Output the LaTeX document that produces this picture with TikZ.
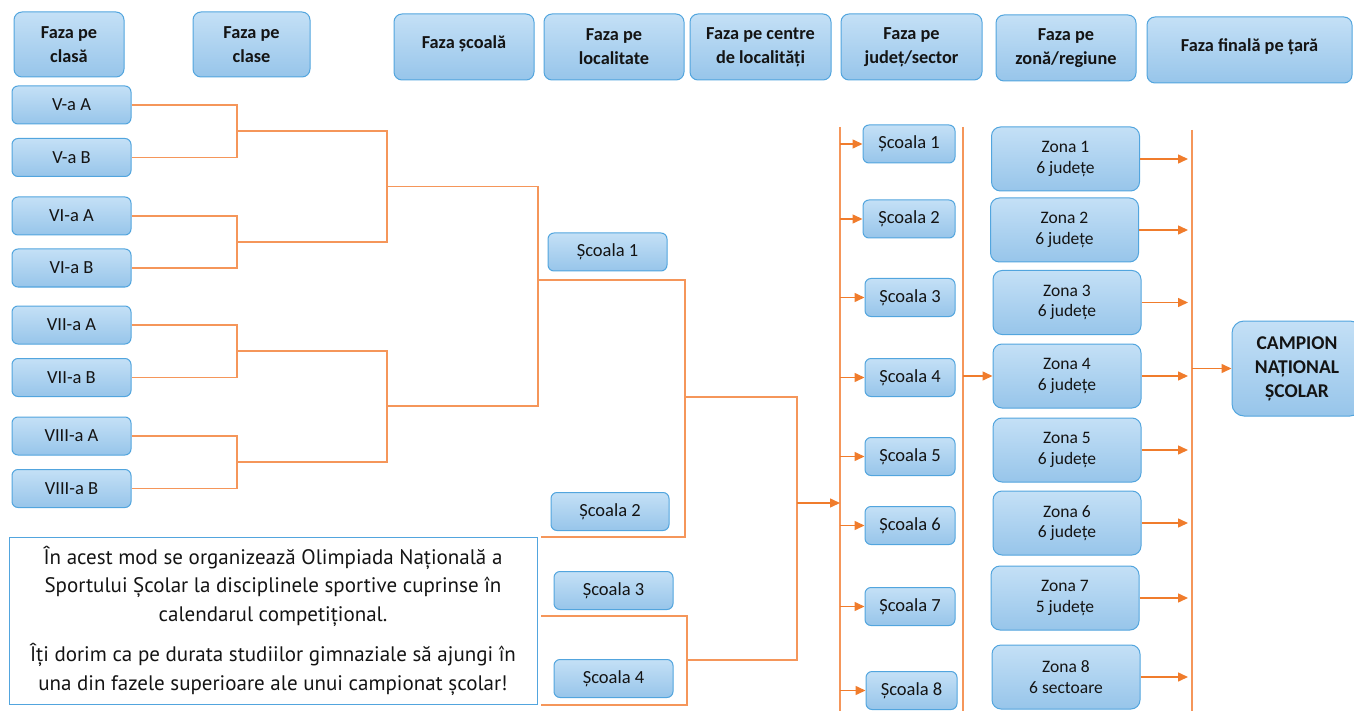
\documentclass[tikz,border=0pt]{standalone}
\usepackage{fontspec}
\setmainfont{Carlito}
\newfontfamily\notefont{PT Sans}
\usetikzlibrary{arrows.meta}

\definecolor{boxtop}{HTML}{C4E0F6}
\definecolor{boxbot}{HTML}{97C5EA}
\definecolor{boxline}{HTML}{52A5DE}
\definecolor{wire}{HTML}{F5965A}
\definecolor{wirehead}{HTML}{F07C2C}
\definecolor{ink}{HTML}{141414}

\tikzset{
  bluebox/.style={rounded corners=6pt, draw=boxline, line width=1pt,
    top color=boxtop, bottom color=boxbot, align=center, text=ink, inner sep=0pt},
  phase/.style={bluebox, rounded corners=8pt, font=\fontsize{18.3}{24}\selectfont\bfseries},
  team/.style={bluebox, minimum height=38pt, font=\fontsize{18.5}{20}\selectfont},
  zone/.style={bluebox, rounded corners=9pt, minimum width=148pt, minimum height=64pt,
    font=\fontsize{17.5}{20.5}\selectfont},
  wireline/.style={draw=wire, line width=1.3pt},
  flow/.style={draw=wirehead, line width=1.5pt, -{Triangle[length=10pt,width=9pt]}},
}

\begin{document}
\begin{tikzpicture}[x=1pt,y=-1pt]
\useasboundingbox (0,0) rectangle (1354,711);

% ---- phase headers ----
\node[phase, minimum width=110pt, minimum height=65pt] (h1) at (69,44.5) {Faza pe\\clasă};
\node[phase, minimum width=117pt, minimum height=65pt] (h2) at (251.5,44.5) {Faza pe\\clase};
\node[phase, minimum width=140pt, minimum height=66pt] (h3) at (464,47) {\raisebox{10pt}{Faza școală}};
\node[phase, minimum width=140pt, minimum height=66pt] (h4) at (614,47) {Faza pe\\localitate};
\node[phase, minimum width=141pt, minimum height=66pt] (h5) at (760.5,47) {Faza pe centre\\de localități};
\node[phase, minimum width=141pt, minimum height=66pt] (h6) at (911.5,47) {Faza pe\\județ/sector};
\node[phase, minimum width=140pt, minimum height=66pt] (h7) at (1066,48) {Faza pe\\zonă/regiune};
\node[phase, minimum width=205pt, minimum height=66pt] (h8) at (1249.5,50) {\raisebox{10pt}{Faza finală pe țară}};

% ---- class teams ----
\node[team, minimum width=119pt] (c5a) at (71.5,105)   {V-a A};
\node[team, minimum width=119pt] (c5b) at (71.5,157.5) {V-a B};
\node[team, minimum width=119pt] (c6a) at (71.5,216)   {VI-a A};
\node[team, minimum width=119pt] (c6b) at (71.5,268)   {VI-a B};
\node[team, minimum width=119pt] (c7a) at (71.5,325)   {VII-a A};
\node[team, minimum width=119pt] (c7b) at (71.5,377.5) {VII-a B};
\node[team, minimum width=119pt] (c8a) at (71.5,436)   {VIII-a A};
\node[team, minimum width=119pt] (c8b) at (71.5,488.5) {VIII-a B};

% ---- bracket joints ----
\coordinate (p5) at (237,131);
\coordinate (p6) at (237,242);
\coordinate (p7) at (237,351);
\coordinate (p8) at (237,462);
\coordinate (q56) at (387,186.5);
\coordinate (q78) at (387,406);
\coordinate (r) at (538,280);

\draw[wireline] (c5a.east) -| (p5) |- (c5b.east);
\draw[wireline] (c6a.east) -| (p6) |- (c6b.east);
\draw[wireline] (c7a.east) -| (p7) |- (c7b.east);
\draw[wireline] (c8a.east) -| (p8) |- (c8b.east);
\draw[wireline] (p5) -| (q56) |- (p6);
\draw[wireline] (p7) -| (q78) |- (p8);
\draw[wireline] (q56) -| (r) |- (q78);

% ---- schools of the town ----
\node[team, minimum width=119pt] (s1) at (607.5,252)  {Școala 1};
\node[team, minimum width=118pt] (s2) at (610,511.5)  {Școala 2};
\node[team, minimum width=119pt] (s3) at (613.5,590.5) {Școala 3};
\node[team, minimum width=119pt] (s4) at (613.5,678.5) {Școala 4};

\coordinate (t2) at (685,537);
\coordinate (u2) at (541,537);
\coordinate (t) at (685,397);
\coordinate (u3) at (541,616);
\coordinate (t34) at (687,660);
\coordinate (u4) at (541,705);
\coordinate (w) at (797,503);

\draw[wireline] (r) -| (t2) -- (u2);
\draw[wireline] (u3) -| (t34) |- (u4);
\draw[wireline] (t34) -| (w) |- (t);

% ---- buses ----
\coordinate (b1top) at (840,127);
\coordinate (b1bot) at (840,711);
\coordinate (b2top) at (963,127);
\coordinate (b2bot) at (963,711);
\coordinate (b3top) at (1192,130);
\coordinate (b3bot) at (1192,711);
\draw[wireline] (b1top) -- (b1bot);
\draw[wireline] (b2top) -- (b2bot);
\draw[wireline] (b3top) -- (b3bot);

\draw[flow] (w) -- (b1top |- w);

% ---- county schools ----
\node[team, minimum width=92pt] (j1) at (909,144)   {Școala 1};
\node[team, minimum width=92pt] (j2) at (909,219)   {Școala 2};
\node[team, minimum width=90pt] (j3) at (910,297.5) {Școala 3};
\node[team, minimum width=90pt] (j4) at (910,377.5) {Școala 4};
\node[team, minimum width=90pt] (j5) at (910,456.5) {Școala 5};
\node[team, minimum width=90pt] (j6) at (910,525.5) {Școala 6};
\node[team, minimum width=90pt] (j7) at (910,606.5) {Școala 7};
\node[team, minimum width=91pt] (j8) at (911.5,690.5) {Școala 8};

\foreach \n in {j1,j2,j3,j4,j5,j6,j7,j8}
  \draw[flow] (b1top |- \n.west) -- (\n.west);

% ---- zones ----
\node[zone] (z1) at (1065.5,159)   {Zona 1\\6 județe};
\node[zone] (z2) at (1064.5,230)   {Zona 2\\6 județe};
\node[zone] (z3) at (1067,302.5)   {Zona 3\\6 județe};
\node[zone] (z4) at (1067,376)     {Zona 4\\6 județe};
\node[zone] (z5) at (1067,450)     {Zona 5\\6 județe};
\node[zone] (z6) at (1067,523)     {Zona 6\\6 județe};
\node[zone] (z7) at (1065,598)     {Zona 7\\5 județe};
\node[zone] (z8) at (1066,677)     {Zona 8\\6 sectoare};

\draw[flow] (b2top |- z4.west) -- (z4.west);
\foreach \n in {z1,z2,z3,z4,z5,z6,z7,z8}
  \draw[flow, shorten >=4pt] (\n.east) -- (b3top |- \n.east);

% ---- national champion ----
\node[bluebox, rounded corners=12pt, minimum width=130pt, minimum height=95pt,
      font=\fontsize{19.5}{24}\selectfont\bfseries] (champ) at (1297,368.5)
      {CAMPION\\NAȚIONAL\\ȘCOLAR};
\draw[flow] (b3top |- champ.west) -- (champ.west);

% ---- note ----
\node[draw=boxline, line width=1pt, minimum width=528pt, minimum height=167pt,
      inner sep=0pt, align=center, text=ink,
      font=\notefont\fontsize{21}{28.5}\selectfont] (note) at (273,620.5)
  {În acest mod se organizează Olimpiada Națională a\\
   Sportului Școlar la disciplinele sportive cuprinse în\\
   calendarul competițional.\\[12pt]
   Îți dorim ca pe durata studiilor gimnaziale să ajungi în\\
   una din fazele superioare ale unui campionat școlar!};

\end{tikzpicture}
\end{document}
